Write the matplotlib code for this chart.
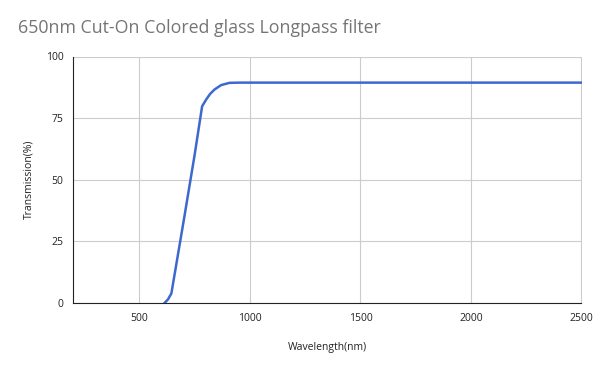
import matplotlib.pyplot as plt

# transmission curve
wavelength = [614, 630, 645, 700, 750, 784, 802, 820, 840, 870, 907, 950, 1200, 1500, 2000, 2500]
transmission = [0, 1.5, 3.9, 33, 60, 79.8, 82.5, 84.8, 86.6, 88.4, 89.3, 89.4, 89.4, 89.4, 89.4, 89.4]

x_ticks = [500, 1000, 1500, 2000, 2500]
y_ticks = [0, 25, 50, 75, 100]

plt.rcParams['font.family'] = ['Open Sans', 'DejaVu Sans']

fig = plt.figure(figsize=(6, 3.71), dpi=100)
ax = fig.add_axes([73/600, 1 - 303/371, (581.5 - 73)/600, (303 - 56.5)/371])

ax.plot(wavelength, transmission, color='#3d69cf', linewidth=1.8, solid_joinstyle='round')

ax.set_xlim(200, 2500)
ax.set_ylim(0, 100)
ax.set_xticks(x_ticks)
ax.set_yticks(y_ticks)
ax.tick_params(length=0, labelsize=7.5, pad=7, colors='#222222')
ax.grid(True, color='#cccccc', linewidth=0.8)
ax.set_axisbelow(True)

for side in ['top', 'right']:
    ax.spines[side].set_visible(False)
ax.spines['left'].set_color('#222222')
ax.spines['bottom'].set_color('#222222')

ax.set_xlabel('Wavelength(nm)', fontsize=7.5, labelpad=13, color='#222222')
ax.set_ylabel('Transmission(%)', fontsize=7.5, labelpad=8, color='#222222')

fig.text(18/600, 1 - 28/371, '650nm Cut-On Colored glass Longpass filter',
         fontsize=12.8, color='#757575', va='center', ha='left')

fig.savefig('out.png', dpi=100)
